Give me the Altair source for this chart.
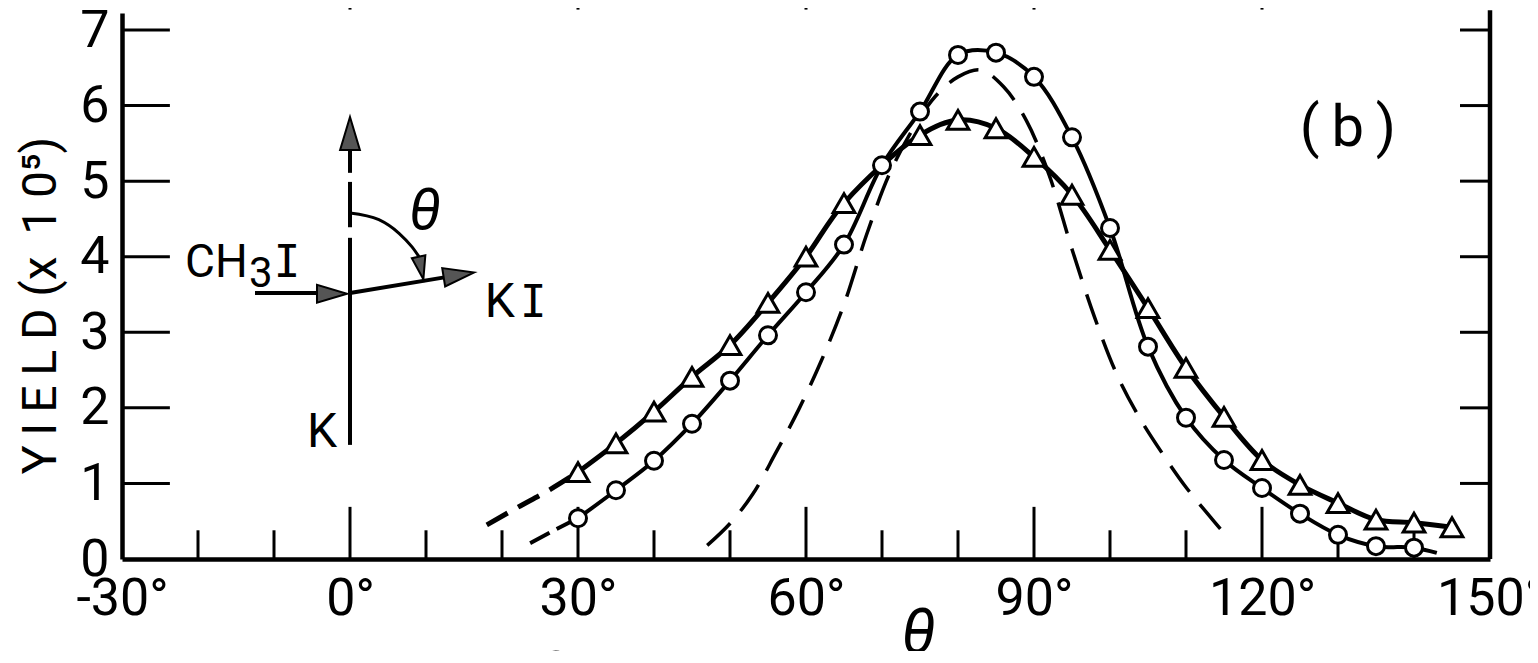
import altair as alt
import pandas as pd

# ---------------- data ----------------
# open circles (solid curve)
circ_x = [30, 35, 40, 45, 50, 55, 60, 65, 70, 75, 80, 85, 90, 95, 100, 105, 110, 115, 120, 125, 130, 135, 140]
circ_y = [0.54, 0.91, 1.30, 1.79, 2.36, 2.96, 3.53, 4.16, 5.21, 5.92, 6.67, 6.70, 6.38, 5.58, 4.38, 2.81,
          1.87, 1.31, 0.94, 0.60, 0.32, 0.17, 0.15]
circ_tail_x = [143]
circ_tail_y = [0.08]
circ_ext_x = [23.7, 26.5, 30]
circ_ext_y = [0.21, 0.36, 0.54]

# open triangles (solid curve)
tri_x = [30, 35, 40, 45, 50, 55, 60, 65, 75, 80, 85, 90, 95, 100, 105, 110, 115, 120, 125, 130, 135, 140, 145]
tri_y = [1.15, 1.53, 1.95, 2.41, 2.83, 3.39, 4.00, 4.71, 5.61, 5.81, 5.70, 5.32, 4.82, 4.09, 3.32, 2.53,
         1.88, 1.31, 0.98, 0.74, 0.52, 0.48, 0.42]
tri_ext_x = [18, 22, 26, 30]
tri_ext_y = [0.45, 0.68, 0.90, 1.15]

# dashed curve without markers
dash_x = [47, 50, 53, 56, 59, 62, 65, 68, 71, 74, 77, 80, 83, 86, 89, 92, 95, 98, 101, 104, 107, 110, 113, 115]
dash_y = [0.18, 0.47, 0.86, 1.40, 1.97, 2.62, 3.37, 4.30, 5.10, 5.68, 6.12, 6.38, 6.47, 6.25, 5.80, 5.08,
          4.10, 3.19, 2.42, 1.85, 1.38, 0.95, 0.58, 0.34]

# axis ticks
x_label_vals = [-30, 0, 30, 60, 90, 120, 150]
x_major = [0, 30, 60, 90, 120]
x_minor = [-20, -10, 10, 20, 40, 50, 70, 80, 100, 110, 130, 140]
y_label_vals = [0, 1, 2, 3, 4, 5, 6, 7]
y_tick_vals = [1, 2, 3, 4, 5, 6, 7]

# inset diagram (beam geometry), in plot units
k_beam_y = [1.51, 4.39, 5.11]
k_beam_y2 = [4.25, 4.99, 5.45]
ch3i_shaft_x = [-12.5, -3.0]
ch3i_shaft_y = [3.52, 3.52]
ki_shaft_x = [0, 12.63]
ki_shaft_y = [3.52, 3.73]
arc_x = [0, 3.8, 6.45, 8.16, 9.08]
arc_y = [4.58, 4.49, 4.31, 4.13, 4.00]
head_x = [0, -2.37, 14.34, 9.34]
head_y = [5.63, 3.51, 3.76, 3.85]
head_angle = [0, 90, 81, 168]
head_size = [1089, 900, 961, 529]

# ---------------- scales / axes ----------------
FONT = "Roboto"
xs = alt.Scale(domain=[-30, 150], nice=False, zero=False)
ys = alt.Scale(domain=[0, 7.225], nice=False, zero=False)

xaxis = alt.Axis(
    values=x_label_vals, labelExpr="datum.value + '°'", ticks=False, tickSize=0, grid=False,
    labelPadding=14, labelFont=FONT, labelFontSize=52, labelFontWeight=400, labelColor="black",
    labelFlush=False, labelOverlap=False, labelBound=False,
    domainColor="black", domainWidth=4.5,
    title="θ", titleFont=FONT, titleFontSize=62, titleFontStyle="italic", titleFontWeight=400,
    titleColor="black", titleX=796, titleY=93, titleAlign="center", titleBaseline="alphabetic",
)
yaxis = alt.Axis(
    values=y_label_vals, ticks=False, tickSize=0, grid=False,
    labelPadding=13, labelFont=FONT, labelFontSize=52, labelFontWeight=400, labelColor="black",
    labelFlush=False, labelOverlap=False, labelBound=False,
    domainColor="black", domainWidth=4.5,
    title="Y\u2009I\u2009E\u2009L\u2009D  (x\u2009 1\u20090\u2075)", titleFont=FONT, titleFontSize=48,
    titleFontWeight=400, titleColor="black", titleX=-67, titleY=292, titleAngle=270,
    titleAlign="center", titleBaseline="alphabetic",
)


def ex(f="x"):
    return alt.X(f"{f}:Q", scale=xs, axis=xaxis)


def ey(f="y"):
    return alt.Y(f"{f}:Q", scale=ys, axis=yaxis)


def frame(**cols):
    return pd.DataFrame(cols)


layers = []

# dashed curve
layers.append(alt.Chart(frame(x=dash_x, y=dash_y)).mark_line(
    color="black", strokeWidth=3.5, strokeDash=[32, 16], interpolate="catmull-rom").encode(x=ex(), y=ey()))
# dashed extensions
layers.append(alt.Chart(frame(x=tri_ext_x, y=tri_ext_y)).mark_line(
    color="black", strokeWidth=5, strokeDash=[24, 12], interpolate="monotone").encode(x=ex(), y=ey()))
layers.append(alt.Chart(frame(x=circ_ext_x, y=circ_ext_y)).mark_line(
    color="black", strokeWidth=4, strokeDash=[22, 8], interpolate="monotone").encode(x=ex(), y=ey()))
# solid curves
layers.append(alt.Chart(frame(x=tri_x, y=tri_y)).mark_line(
    color="black", strokeWidth=5, interpolate="catmull-rom").encode(x=ex(), y=ey()))
layers.append(alt.Chart(frame(x=circ_x + circ_tail_x, y=circ_y + circ_tail_y)).mark_line(
    color="black", strokeWidth=4, interpolate="catmull-rom").encode(x=ex(), y=ey()))

# x ticks (inward)
xt = frame(x=x_major + x_minor, y=[0] * (len(x_major) + len(x_minor)),
           y2=[0.69] * len(x_major) + [0.38] * len(x_minor))
layers.append(alt.Chart(xt).mark_rule(color="black", strokeWidth=3).encode(
    x=ex(), y=ey(), y2="y2:Q"))
# y ticks left and right (inward)
yt = frame(x=[-30] * len(y_tick_vals) + [150] * len(y_tick_vals),
           x2=[-23.7] * len(y_tick_vals) + [146.05] * len(y_tick_vals),
           y=y_tick_vals + y_tick_vals)
layers.append(alt.Chart(yt).mark_rule(color="black", strokeWidth=3).encode(
    x=ex(), x2="x2:Q", y=ey()))
# right frame line
layers.append(alt.Chart(frame(x=[150], y=[0], y2=[7.26])).mark_rule(
    color="black", strokeWidth=4.5).encode(x=ex(), y=ey(), y2="y2:Q"))
# stubs of the panel above
layers.append(alt.Chart(frame(x=x_major, y=[7.27] * 5, y2=[7.6] * 5)).mark_rule(
    color="black", strokeWidth=3).encode(x=ex(), y=ey(), y2="y2:Q"))

# inset: K beam
layers.append(alt.Chart(frame(x=[0, 0, 0], y=k_beam_y, y2=k_beam_y2)).mark_rule(
    color="black", strokeWidth=4).encode(x=ex(), y=ey(), y2="y2:Q"))
layers.append(alt.Chart(frame(x=ch3i_shaft_x, y=ch3i_shaft_y)).mark_line(
    color="black", strokeWidth=4).encode(x=ex(), y=ey()))
layers.append(alt.Chart(frame(x=ki_shaft_x, y=ki_shaft_y)).mark_line(
    color="black", strokeWidth=4).encode(x=ex(), y=ey()))
layers.append(alt.Chart(frame(x=arc_x, y=arc_y)).mark_line(
    color="black", strokeWidth=3, interpolate="monotone").encode(x=ex(), y=ey()))
layers.append(alt.Chart(frame(x=head_x, y=head_y, a=head_angle, s=head_size)).mark_point(
    shape="M0,-1L0.6,1L-0.6,1Z", filled=True, fill="#555555", stroke="black", strokeWidth=2,
    opacity=1).encode(x=ex(), y=ey(), angle=alt.Angle("a:Q", scale=None), size=alt.Size("s:Q", scale=None)))

# inset / panel texts: (text, x, y, size, font, style, align)
texts = [
    ("CH", -21.7, 3.73, 46, FONT, "normal", "left"),
    ("3", -13.3, 3.60, 42, FONT, "normal", "left"),
    ("I", -8.3, 3.73, 44, "DejaVu Sans Mono", "normal", "center"),
    ("K", 19.7, 3.20, 48, FONT, "normal", "center"),
    ("I", 24.1, 3.20, 44, "DejaVu Sans Mono", "normal", "center"),
    ("K", -3.68, 1.48, 48, FONT, "normal", "center"),
    ("θ", 9.87, 4.37, 58, FONT, "italic", "center"),
    ("(\u2009b\u2009)", 131.3, 5.47, 58, FONT, "normal", "center"),
    ("27°", 30.3, -1.71, 52, FONT, "normal", "center"),
]
for t, tx, ty, tsz, tf, tst, tal in texts:
    layers.append(alt.Chart(frame(x=[tx], y=[ty], t=[t])).mark_text(
        font=tf, fontSize=tsz, fontStyle=tst, fontWeight="normal",
        align=tal, baseline="alphabetic", color="black").encode(x=ex(), y=ey(), text="t:N"))

# markers on top
layers.append(alt.Chart(frame(x=tri_x, y=tri_y)).mark_point(
    shape="triangle-up", size=470, filled=True, fill="white", stroke="black", strokeWidth=3,
    opacity=1).encode(x=ex(), y=ey()))
layers.append(alt.Chart(frame(x=circ_x, y=circ_y)).mark_point(
    shape="circle", size=289, filled=True, fill="white", stroke="black", strokeWidth=3,
    opacity=1).encode(x=ex(), y=ey()))

chart = alt.layer(*layers).properties(
    width=1368, height=546,
    autosize=alt.AutoSizeParams(type="none"),
    padding={"left": 114, "top": 5, "right": 40, "bottom": 92},
    background="white",
).configure_view(stroke=None)

chart.save("out.html", embed_options={"renderer": "svg", "actions": False})
